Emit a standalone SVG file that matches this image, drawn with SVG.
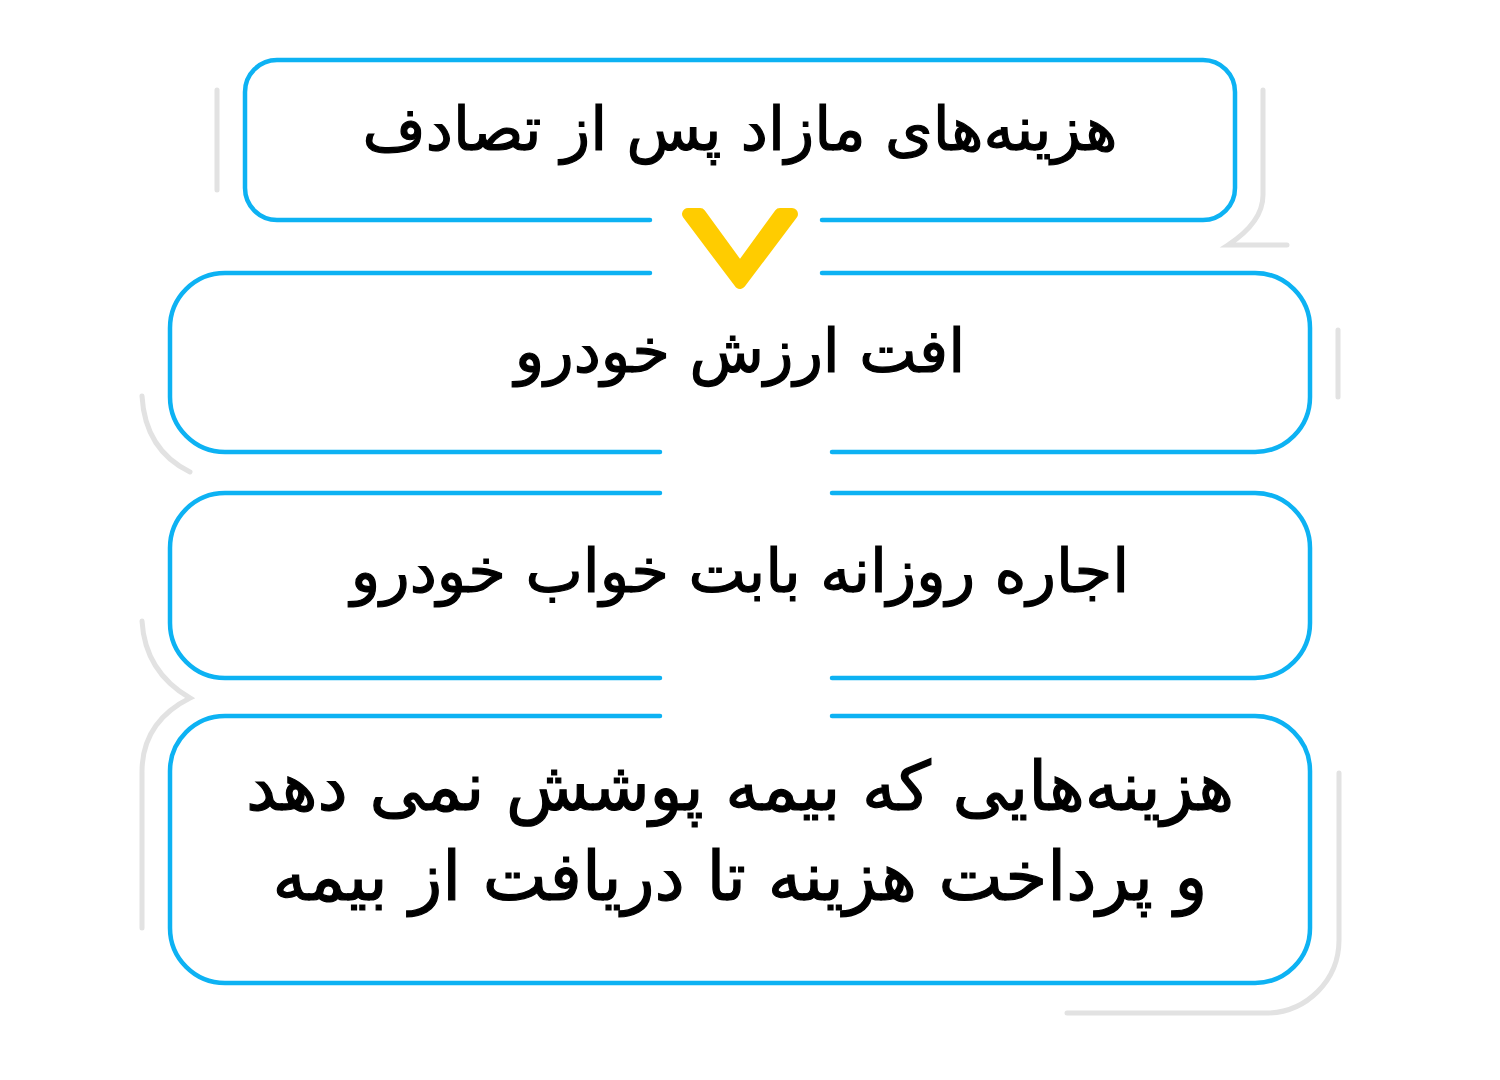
<svg xmlns="http://www.w3.org/2000/svg" width="1500" height="1080" viewBox="0 0 1500 1080">
  <style>
    .box { fill: none; stroke: #0DB2F3; stroke-width: 4.5; stroke-linecap: round; }
    .deco { fill: none; stroke: #E2E2E2; stroke-width: 5; stroke-linecap: round; stroke-linejoin: miter; }
    .lbl { font-family: "DejaVu Sans", "Noto Sans", sans-serif; font-size: 61px; fill: #000; stroke: #000; stroke-width: 1.2; text-anchor: middle; direction: rtl; }
    .big { font-size: 68px; }
  </style>
  <rect width="1500" height="1080" fill="#FFFFFF"/>
  <g id="decorations">
    <path class="deco" d="M 217 90 V 190"/>
    <path class="deco" d="M 1263 90 V 195 Q 1263 222 1228 245 H 1287"/>
    <path class="deco" d="M 1338 330 V 397"/>
    <path class="deco" d="M 142 396 Q 145 450 190 472"/>
    <path class="deco" d="M 142 621 Q 145 672 190 698 Q 142 722 142 772 V 928"/>
    <path class="deco" d="M 1339 773 V 940 A 73 73 0 0 1 1266 1013 H 1067"/>
  </g>
  <g id="connectors">
    <path d="M 688 214 L 700 214 L 740 269 L 780 214 L 792 214 L 740 283 Z" fill="#FFCC00" stroke="#FFCC00" stroke-width="12" stroke-linejoin="round"/>
  </g>
  <g id="node1">
    <path class="box" d="M 650 220 H 277 A 32 32 0 0 1 245 188 V 92 A 32 32 0 0 1 277 60 H 1203 A 32 32 0 0 1 1235 92 V 188 A 32 32 0 0 1 1203 220 H 822"/>
    <text class="lbl" x="740" y="150">هزینه‌های مازاد پس از تصادف</text>
  </g>
  <g id="node2">
    <path class="box" d="M 650 273 H 225 A 55 55 0 0 0 170 328 V 397 A 55 55 0 0 0 225 452 H 660 M 832 452 H 1255 A 55 55 0 0 0 1310 397 V 328 A 55 55 0 0 0 1255 273 H 822"/>
    <text class="lbl" x="740" y="372">افت ارزش خودرو</text>
  </g>
  <g id="node3">
    <path class="box" d="M 660 493 H 225 A 55 55 0 0 0 170 548 V 623 A 55 55 0 0 0 225 678 H 660 M 832 678 H 1255 A 55 55 0 0 0 1310 623 V 548 A 55 55 0 0 0 1255 493 H 832"/>
    <text class="lbl" x="740" y="592">اجاره روزانه بابت خواب خودرو</text>
  </g>
  <g id="node4">
    <path class="box" d="M 660 716 H 225 A 55 55 0 0 0 170 771 V 928 A 55 55 0 0 0 225 983 H 1255 A 55 55 0 0 0 1310 928 V 771 A 55 55 0 0 0 1255 716 H 832"/>
    <text class="lbl big" x="740" y="810">هزینه‌هایی که بیمه پوشش نمی دهد</text>
    <text class="lbl big" x="740" y="900">و پرداخت هزینه تا دریافت از بیمه</text>
  </g>
</svg>
